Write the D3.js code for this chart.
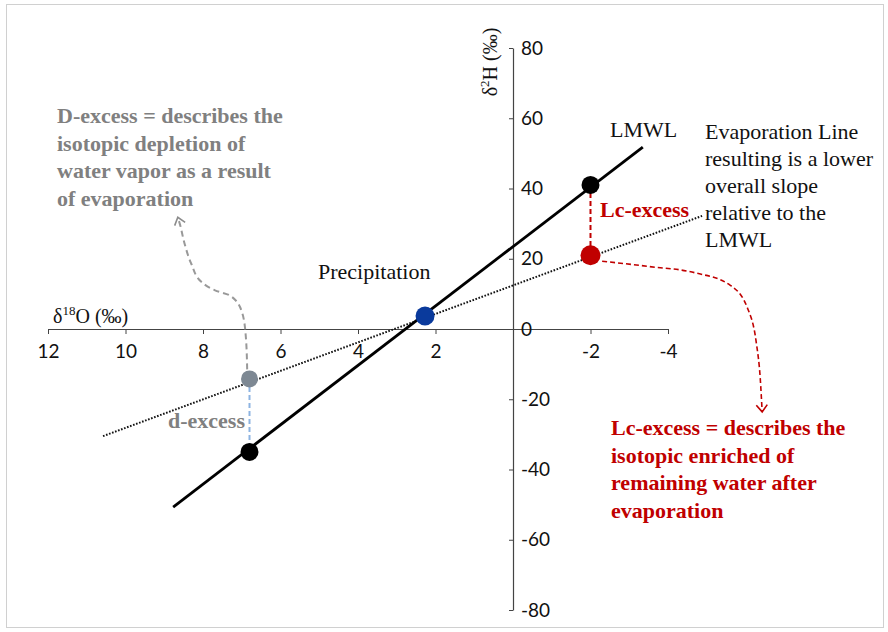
<!DOCTYPE html>
<html><head><meta charset="utf-8">
<script src="https://cdn.jsdelivr.net/npm/d3@7"></script>
<style>body{margin:0;background:#fff}svg{display:block}</style>
</head><body><svg id="c" width="888" height="632"></svg>
<script>
// ---------- data ----------
const xTickValues = [12, 10, 8, 6, 4, 2, -2, -4];
const yTickValues = [80, 60, 40, 20, 0, -20, -40, -60, -80];
// LMWL (solid) and evaporation line (dotted): [d18O, d2H] endpoints
const lmwlLine = [[8.77, -50.7], [-3.35, 51.8]];
const evapLine = [[10.58, -30.5], [-4.88, 32.2]];
// key points
const pointNames = ["lmwlHigh", "evaporated", "precipitation", "vapor", "lmwlLow"];
const pointX = [-2, -2, 2.27, 6.8, 6.8];
const pointY = [41, 21, 3.7, -14.2, -35];
// annotation arrow paths (data coordinates)
const vaporArrowX = [6.86, 6.9, 7.0, 7.3, 7.69, 8.05, 8.3, 8.48, 8.6, 8.65];
const vaporArrowY = [-11.5, -1.5, 5.0, 9.5, 11.0, 13.5, 18.5, 24.5, 30.0, 31.8];
const evapArrowX = [-2.3, -3.5, -4.7, -5.6, -6.05, -6.28, -6.38, -6.43];
const evapArrowY = [19.3, 17.8, 16.0, 12.5, 6.0, -4.0, -14.0, -23.6];
// texts
const dExcessNote = ["D-excess = describes the", "isotopic depletion of", "water vapor as a result", "of evaporation"];
const lcExcessNote = ["Lc-excess = describes the", "isotopic enriched of", "remaining water after", "evaporation"];
const evapNote = ["Evaporation Line", "resulting is a lower", "overall slope", "relative to the", "LMWL"];

// ---------- layout ----------
const svg = d3.select("#c");
const x = d3.scaleLinear().domain([12, -4]).range([48, 668]);
const y = d3.scaleLinear().domain([80, -80]).range([48, 610]);
const serif = "'Liberation Serif','Times New Roman',serif";
const sans = "Lato, 'Open Sans', sans-serif";
const style = {
  lmwlHigh: {fill: "#000000", r: 9},
  evaporated: {fill: "#c00000", r: 10},
  precipitation: {fill: "#0a3a9c", r: 9.5},
  vapor: {fill: "#7d8893", r: 8.5},
  lmwlLow: {fill: "#000000", r: 9}
};
const red = "#c00000", grayText = "#808080";

// frame
svg.append("rect").attr("x", 6.5).attr("y", 4.5).attr("width", 877).attr("height", 623)
  .attr("fill", "#fff").attr("stroke", "#d0d0d0");

// markers
const defs = svg.append("defs");
function chevron(id, color) {
  defs.append("marker").attr("id", id).attr("viewBox", "-10 -8 12 16")
    .attr("refX", 0).attr("refY", 0).attr("markerWidth", 12).attr("markerHeight", 16)
    .attr("markerUnits", "userSpaceOnUse").attr("orient", "auto")
    .append("path").attr("d", "M-7,-5.5 L0,0 L-7,5.5").attr("fill", "none")
    .attr("stroke", color).attr("stroke-width", 1.6);
}
chevron("arrGray", "#8c8c8c");
chevron("arrRed", red);

// axes
const fmt = d => String(d);
const xAxis = svg.append("g").attr("transform", `translate(0,${y(0)})`)
  .call(d3.axisBottom(x).tickValues(xTickValues).tickFormat(fmt).tickSize(5).tickSizeOuter(0).tickPadding(11));
const yAxis = svg.append("g").attr("transform", `translate(${x(0)},0)`)
  .call(d3.axisLeft(y).tickValues(yTickValues).tickFormat(fmt).tickSize(4).tickSizeOuter(0));
[xAxis, yAxis].forEach(g => {
  g.select(".domain").attr("stroke", "#444").attr("stroke-width", 1.2);
  g.selectAll(".tick line").attr("stroke", "#444");
  g.selectAll(".tick text").attr("font-family", sans).attr("font-size", 19).attr("fill", "#111");
});
yAxis.selectAll(".tick text").attr("x", 8).attr("text-anchor", "start");

// axis titles
const xt = svg.append("text").attr("x", 53).attr("y", 323).attr("font-family", serif)
  .attr("font-size", 20).attr("fill", "#111");
xt.append("tspan").text("δ");
xt.append("tspan").attr("dy", -8).attr("font-size", 13).text("18");
xt.append("tspan").attr("dy", 8).text("O (‰)");
const yt = svg.append("text").attr("transform", `translate(497,62) rotate(-90)`)
  .attr("text-anchor", "middle").attr("font-family", serif).attr("font-size", 20).attr("fill", "#111");
yt.append("tspan").text("δ");
yt.append("tspan").attr("dy", -8).attr("font-size", 13).text("2");
yt.append("tspan").attr("dy", 8).text("H (‰)");

// lines
const line = d3.line().x(d => x(d[0])).y(d => y(d[1]));
svg.append("path").attr("d", line(evapLine)).attr("stroke", "#111").attr("stroke-width", 2)
  .attr("stroke-dasharray", "1.6,1.6").attr("fill", "none");
svg.append("path").attr("d", line(lmwlLine)).attr("stroke", "#000").attr("stroke-width", 2.8)
  .attr("fill", "none");

const P = name => { const i = pointNames.indexOf(name); return [pointX[i], pointY[i]]; };

// d-excess connector
svg.append("path").attr("d", line([P("vapor"), P("lmwlLow")])).attr("stroke", "#8db4e2")
  .attr("stroke-width", 2).attr("stroke-dasharray", "5,3").attr("fill", "none");
// Lc-excess connector
svg.append("path").attr("d", line([P("lmwlHigh"), P("evaporated")])).attr("stroke", red)
  .attr("stroke-width", 2).attr("stroke-dasharray", "5,3").attr("fill", "none");

// curved arrows
const curveY = d3.line().x(d => x(d[0])).y(d => y(d[1])).curve(d3.curveMonotoneY);
const curveX = d3.line().x(d => x(d[0])).y(d => y(d[1])).curve(d3.curveMonotoneX);
svg.append("path").attr("d", curveY(vaporArrowX.map((v, i) => [v, vaporArrowY[i]])))
  .attr("stroke", "#999").attr("stroke-width", 2).attr("stroke-dasharray", "6,4")
  .attr("fill", "none").attr("marker-end", "url(#arrGray)");
svg.append("path").attr("d", curveX(evapArrowX.map((v, i) => [v, evapArrowY[i]])))
  .attr("stroke", red).attr("stroke-width", 1.6).attr("stroke-dasharray", "5,3")
  .attr("fill", "none").attr("marker-end", "url(#arrRed)");

// points
svg.selectAll("circle.pt").data(pointNames).join("circle").attr("class", "pt")
  .attr("cx", (d, i) => x(pointX[i])).attr("cy", (d, i) => y(pointY[i]))
  .attr("r", d => style[d].r).attr("fill", d => style[d].fill);

// text blocks
function block(lines, x0, y0, dy, opts) {
  const t = svg.append("text").attr("font-family", serif).attr("font-size", opts.size || 22)
    .attr("font-weight", opts.bold ? "bold" : "normal").attr("fill", opts.color || "#111");
  lines.forEach((s, i) => t.append("tspan").attr("x", x0).attr("y", y0 + i * dy).text(s));
}
block(dExcessNote, 57, 123, 27.5, {bold: true, color: grayText});
block(lcExcessNote, 611, 435, 27.5, {bold: true, color: red});
block(evapNote, 705, 139, 27, {});
block(["LMWL"], 610, 137, 0, {});
block(["Precipitation"], 318, 279, 0, {});
block(["Lc-excess"], 600, 217, 0, {bold: true, color: red});
block(["d-excess"], 168, 428, 0, {bold: true, color: grayText});
</script></body></html>
